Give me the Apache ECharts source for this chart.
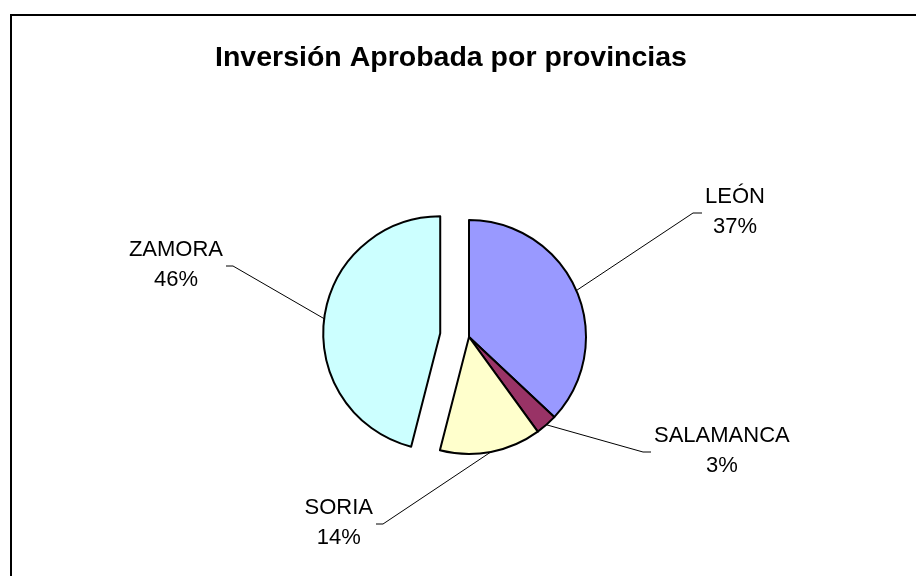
<!DOCTYPE html>
<html>
<head>
<meta charset="utf-8">
<script src="https://cdn.jsdelivr.net/npm/echarts@6/dist/echarts.min.js"></script>
<style>
  html, body { margin: 0; padding: 0; background: #ffffff; }
  #chart { width: 916px; height: 576px; }
</style>
</head>
<body>
<div id="chart"></div>
<script>
// Approved investment share by province
const provinces = ['LEÓN', 'SALAMANCA', 'SORIA', 'ZAMORA'];
const shares = [37, 3, 14, 46];
const sliceColors = ['#9999FF', '#993366', '#FFFFCC', '#CCFFFF'];
const pulledOut = [false, false, false, true];

// Leader-line bend point, end point and the side the label sits on
const labelAnchors = [
  { elbow: [693, 213], end: [702, 213], side: 1 },
  { elbow: [643, 452], end: [651, 452], side: 1 },
  { elbow: [383, 524], end: [376, 524], side: -1 },
  { elbow: [233, 266], end: [226, 266], side: -1 }
];

const FONT = "'Liberation Sans', Arial, sans-serif";
const PIE_CENTER = [469, 337];
const PIE_RADIUS = 117;
const PULL_DISTANCE = 29;

// Centre for the pulled-out slice: shifted along that slice's middle angle
const total = shares.reduce(function (s, v) { return s + v; }, 0);
const pulledIndex = pulledOut.indexOf(true);
const before = shares.slice(0, pulledIndex).reduce(function (s, v) { return s + v; }, 0);
const midAngle = (before + shares[pulledIndex] / 2) / total * 2 * Math.PI; // clockwise from 12 o'clock
const pulledCenter = [
  PIE_CENTER[0] + PULL_DISTANCE * Math.sin(midAngle),
  PIE_CENTER[1] - PULL_DISTANCE * Math.cos(midAngle)
];

function labelLayout(p) {
  const a = labelAnchors[p.dataIndex];
  const start = (p.labelLinePoints && p.labelLinePoints[0]) || a.elbow;
  return {
    x: a.end[0] + a.side * (3 + p.labelRect.width / 2),
    y: a.end[1] - 1,
    align: 'center',
    verticalAlign: 'middle',
    labelLinePoints: [start, a.elbow, a.end]
  };
}

// Each pie layer holds every slice so angles and percentages agree;
// a layer only paints the slices it owns.
function pieLayer(center, owns) {
  return {
    type: 'pie',
    center: center,
    radius: PIE_RADIUS,
    startAngle: 90,
    clockwise: true,
    percentPrecision: 0,
    silent: true,
    emphasis: { disabled: true, scale: false },
    label: {
      show: true,
      position: 'outside',
      formatter: '{b}\n{d}%',
      fontFamily: FONT,
      fontSize: 22,
      lineHeight: 30,
      color: '#000000'
    },
    labelLine: {
      show: true,
      smooth: false,
      lineStyle: { color: '#000000', width: 1 }
    },
    labelLayout: labelLayout,
    data: provinces.map(function (name, i) {
      const visible = owns(i);
      return {
        name: name,
        value: shares[i],
        itemStyle: visible
          ? { color: sliceColors[i], borderColor: '#000000', borderWidth: 2 }
          : { color: 'rgba(0,0,0,0)', borderWidth: 0 },
        label: { show: visible },
        labelLine: { show: visible }
      };
    })
  };
}

const chart = echarts.init(document.getElementById('chart'), null, { renderer: 'canvas' });

chart.setOption({
  animation: false,
  backgroundColor: '#ffffff',
  title: {
    text: 'Inversión Aprobada por provincias',
    left: 446,
    top: 39,
    textAlign: 'center',
    textStyle: { fontFamily: FONT, fontSize: 28.5, fontWeight: 'bold', color: '#000000' }
  },
  graphic: [{
    type: 'rect',
    shape: { x: 11, y: 15, width: 940, height: 600 },
    style: { fill: 'none', stroke: '#000000', lineWidth: 2 },
    silent: true
  }],
  series: [
    pieLayer(PIE_CENTER, function (i) { return !pulledOut[i]; }),
    pieLayer(pulledCenter, function (i) { return pulledOut[i]; })
  ]
});
</script>
</body>
</html>
